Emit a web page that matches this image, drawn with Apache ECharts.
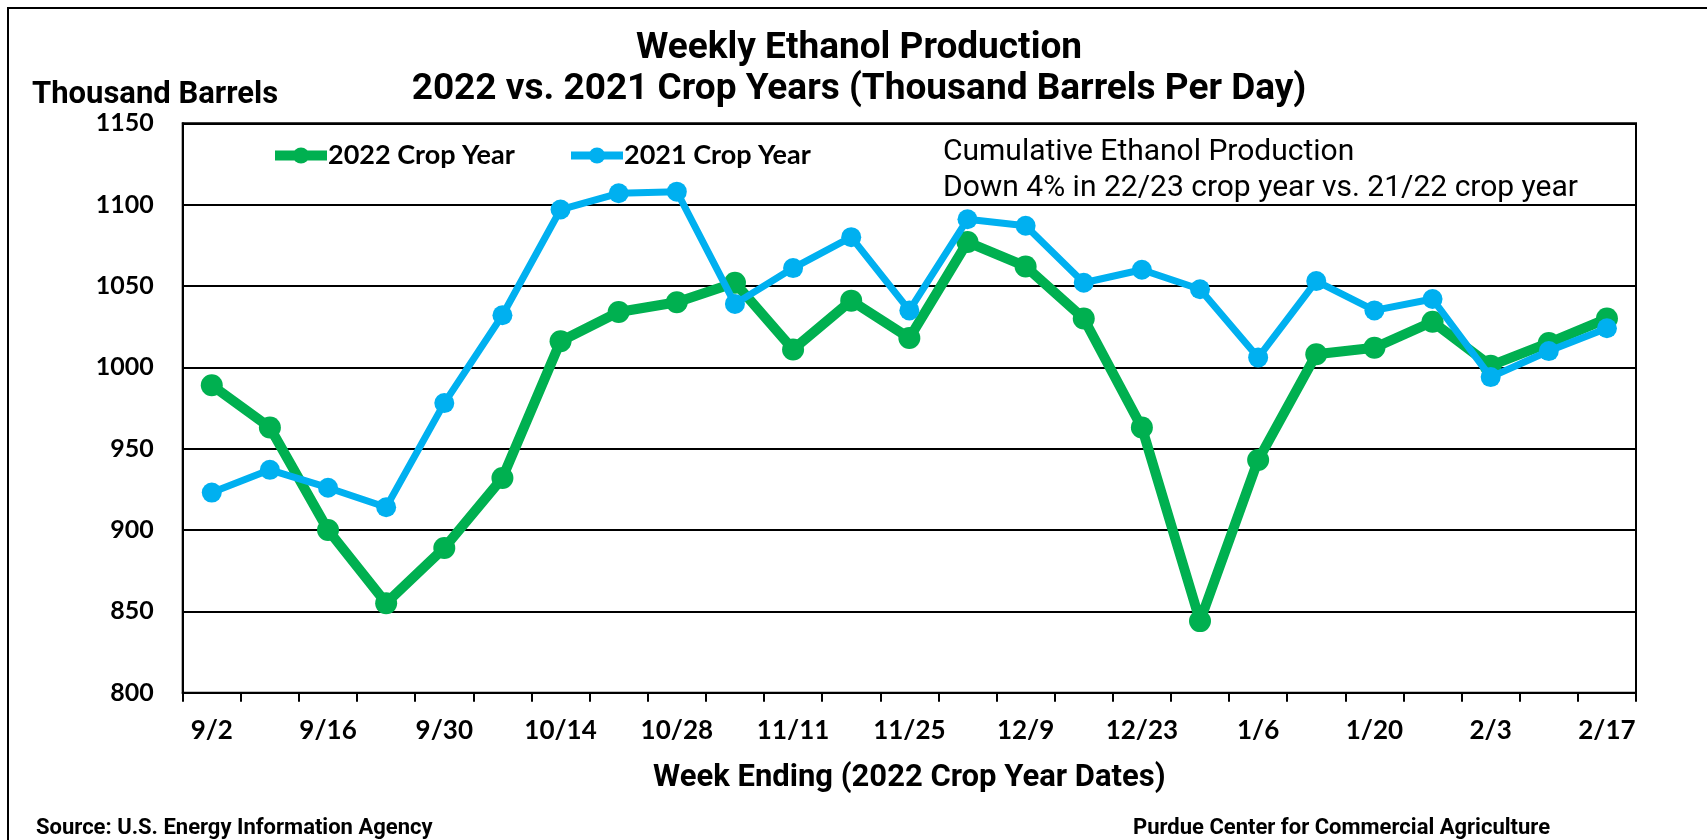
<!DOCTYPE html>
<html>
<head>
<meta charset="utf-8">
<title>Weekly Ethanol Production</title>
<script src="https://cdn.jsdelivr.net/npm/echarts@6/dist/echarts.min.js"></script>
<style>
  html, body { margin: 0; padding: 0; background: #fff; }
  #chart { width: 1707px; height: 840px; }
</style>
</head>
<body>
<div id="chart"></div>
<script>
// Week-ending dates (2022 crop year)
const weeks = ['9/2', '9/9', '9/16', '9/23', '9/30', '10/7', '10/14', '10/21', '10/28', '11/4',
  '11/11', '11/18', '11/25', '12/2', '12/9', '12/16', '12/23', '12/30', '1/6', '1/13',
  '1/20', '1/27', '2/3', '2/10', '2/17'];

// Thousand barrels per day
const crop2022 = [989, 963, 900, 855, 889, 932, 1016, 1034, 1040, 1052,
  1011, 1041, 1018, 1077, 1062, 1030, 963, 844, 943, 1008,
  1012, 1028, 1001, 1015, 1030];
const crop2021 = [923, 937, 926, 914, 978, 1032, 1097, 1107, 1108, 1039,
  1061, 1080, 1035, 1091, 1087, 1052, 1060, 1048, 1006, 1053,
  1035, 1042, 994, 1010, 1024];

const seriesNames = ['2022 Crop Year', '2021 Crop Year'];
const yTicks = { min: 800, max: 1150, step: 50 };

const GREEN = '#00B050';
const BLUE = '#00B0F0';
const labelFont = 'Lato, "Noto Sans", sans-serif';
const textFont = 'Roboto, "Noto Sans", sans-serif';

const legendText = { fontFamily: labelFont, fontWeight: 'bold', fontSize: 27, color: '#000', padding: [0, 0, 0, -4] };

const chart = echarts.init(document.getElementById('chart'), null, { renderer: 'canvas' });

chart.setOption({
  backgroundColor: '#ffffff',
  animation: false,
  grid: {
    left: 182.7, right: 71, top: 123.3, bottom: 147.3,
    show: true, borderColor: '#000', borderWidth: 2, backgroundColor: 'transparent'
  },
  legend: [
    {
      data: [seriesNames[0]], left: 270, top: 142, padding: 0,
      itemWidth: 52, itemHeight: 20, itemGap: 0,
      lineStyle: { width: 10 },
      textStyle: legendText
    },
    {
      data: [seriesNames[1]], left: 567, top: 142, padding: 0,
      itemWidth: 52, itemHeight: 20, itemGap: 0,
      lineStyle: { width: 8 },
      textStyle: legendText
    }
  ],
  xAxis: {
    type: 'category',
    data: weeks,
    boundaryGap: true,
    name: 'Week Ending (2022 Crop Year Dates)',
    nameLocation: 'middle',
    nameGap: 70,
    nameTextStyle: { fontFamily: textFont, fontWeight: 'bold', fontSize: 31, color: '#000' },
    axisLine: { lineStyle: { color: '#000', width: 2 } },
    axisTick: { show: true, interval: 0, length: 9, lineStyle: { color: '#000', width: 2 } },
    axisLabel: {
      interval: 1, margin: 25,
      fontFamily: labelFont, fontWeight: 'bold', fontSize: 26, color: '#000'
    },
    splitLine: { show: false }
  },
  yAxis: {
    type: 'value',
    min: yTicks.min, max: yTicks.max, interval: yTicks.step,
    axisLine: { show: true, lineStyle: { color: '#000', width: 2 } },
    axisTick: { show: false },
    axisLabel: {
      margin: 29,
      formatter: v => String(v),
      fontFamily: labelFont, fontWeight: 'bold', fontSize: 25, color: '#000'
    },
    splitLine: { show: true, lineStyle: { color: '#000', width: 2 } }
  },
  series: [
    {
      name: seriesNames[0],
      type: 'line',
      data: crop2022,
      color: GREEN,
      symbol: 'circle',
      symbolSize: 22,
      lineStyle: { width: 10, color: GREEN },
      itemStyle: { color: GREEN },
      z: 2
    },
    {
      name: seriesNames[1],
      type: 'line',
      data: crop2021,
      color: BLUE,
      symbol: 'circle',
      symbolSize: 20,
      lineStyle: { width: 7, color: BLUE },
      itemStyle: { color: BLUE },
      z: 3
    }
  ],
  graphic: [
    {
      type: 'rect', silent: true,
      shape: { x: 8, y: 8, width: 1800, height: 900 },
      style: { fill: 'none', stroke: '#000', lineWidth: 2 }
    },
    {
      type: 'text', x: 859, y: 28.5,
      style: {
        text: 'Weekly Ethanol Production\n2022 vs. 2021 Crop Years (Thousand Barrels Per Day)',
        align: 'center', verticalAlign: 'top', lineHeight: 41,
        font: 'bold 37px ' + textFont, fill: '#000'
      }
    },
    {
      type: 'text', x: 32, y: 95,
      style: {
        text: 'Thousand Barrels', verticalAlign: 'middle',
        font: 'bold 31px ' + textFont, fill: '#000'
      }
    },
    {
      type: 'text', x: 943, y: 134,
      style: {
        text: 'Cumulative Ethanol Production\nDown 4% in 22/23 crop year vs. 21/22 crop year',
        verticalAlign: 'top', lineHeight: 36, font: '30px ' + textFont, fill: '#000'
      }
    },
    {
      type: 'text', x: 36, y: 828,
      style: {
        text: 'Source: U.S. Energy Information Agency', verticalAlign: 'middle',
        font: 'bold 22px ' + textFont, fill: '#000'
      }
    },
    {
      type: 'text', x: 1133, y: 828,
      style: {
        text: 'Purdue Center for Commercial Agriculture', verticalAlign: 'middle',
        font: 'bold 22px ' + textFont, fill: '#000'
      }
    }
  ]
});
</script>
</body>
</html>
